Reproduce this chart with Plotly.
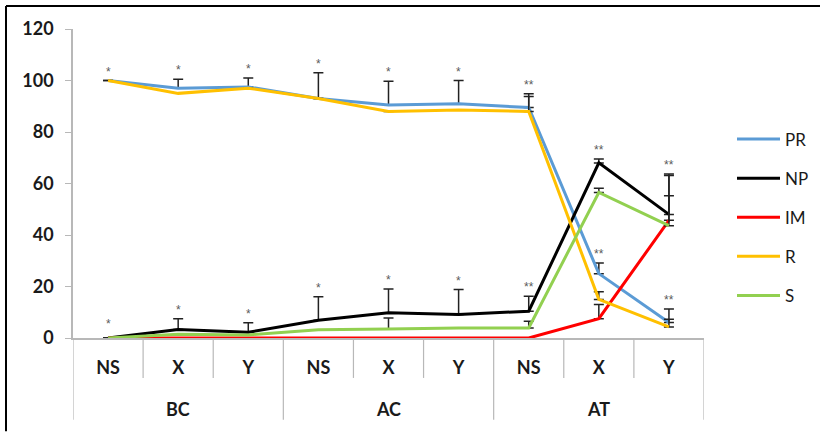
import plotly.graph_objects as go

# Phase groups and the stage within each group
groups = ["BC", "BC", "BC", "AC", "AC", "AC", "AT", "AT", "AT"]
stages = ["NS", "X", "Y", "NS", "X", "Y", "NS", "X", "Y"]

# Mean percentages per series
pr = [100, 97, 97.5, 93, 90.5, 91, 89.5, 25, 6]
np_ = [0, 3.3, 2.2, 6.9, 9.8, 9.1, 10.4, 68, 48]
im = [0, 0, 0, 0, 0, 0, 0, 7.5, 45.7]
r = [100, 95, 97, 93, 88, 88.5, 88, 15, 4.3]
s = [0, 1.5, 1.2, 3.2, 3.5, 3.9, 3.9, 56.5, 43.6]

# Upper error (None = no bar)
pr_err = [0, 3.5, 3.5, 10, 9.2, 9, 5.4, 4.1, 5.3]
np_err = [None, 4.2, 3.7, 9.1, 9.2, 9.7, 5.8, 1.5, 7.2]
im_err = [None, None, None, None, None, None, None, 5.5, 18]
r_err = [None, None, None, None, None, None, 5.8, 3, 3]
s_err = [None, None, None, None, 4.3, None, 2.6, 1.7, 19.5]

# Significance marks
sig_top = ["*", "*", "*", "*", "*", "*", "**", "**", "**"]
sig_low = ["*", "*", "*", "*", "*", "*", "**", "**", "**"]

names = ["PR", "NP", "IM", "R", "S"]
colors = ["#5B9BD5", "#000000", "#FF0000", "#FFC000", "#92D050"]
values = [pr, np_, im, r, s]
errors = [pr_err, np_err, im_err, r_err, s_err]

W, H = 820, 432
ML, MR, MT, MB = 73, 116, 29, 93.5
PLOT_W = W - ML - MR
PLOT_H = H - MT - MB
AXIS_GRAY = "#b8b8b8"
LABEL_FONT = dict(size=18, family="Lato", color="#1a1a1a", weight="bold")
SIG_FONT = dict(size=12, color="#5a5a5a", family="Arial")

xpos = list(range(len(stages)))

fig = go.Figure()
for i in range(len(names)):
    fig.add_trace(go.Scatter(
        x=xpos, y=values[i], name=names[i], mode="lines",
        line=dict(color=colors[i], width=3),
        legendgroup=names[i],
        error_y=dict(type="data", symmetric=False, array=errors[i],
                     arrayminus=[0] * len(xpos), color="#222222",
                     thickness=1.5, width=5),
    ))


def top_of(vals, errs, k):
    e = errs[k] if errs[k] is not None else 0
    return vals[k] + e


for k in xpos:
    fig.add_annotation(x=k, y=top_of(pr, pr_err, k), text=sig_top[k], showarrow=False,
                       yanchor="bottom", yshift=0, font=SIG_FONT)
    y_lo = max(top_of(np_, np_err, k), top_of(s, s_err, k), top_of(im, im_err, k))
    fig.add_annotation(x=k, y=y_lo, text=sig_low[k], showarrow=False,
                       yanchor="bottom", yshift=0 if k else 5, font=SIG_FONT)

# category boundaries below the axis; group boundaries run deeper
n = len(stages)
for k in range(n + 1):
    is_group_edge = k == 0 or k == n or groups[k] != groups[k - 1]
    depth = 82 if is_group_edge else 40
    fig.add_shape(type="line", xref="x", yref="paper", x0=k - 0.5, x1=k - 0.5,
                  y0=0, y1=-depth / PLOT_H, line=dict(color=AXIS_GRAY, width=1.2))

# group names centred under their stages
seen = []
for g in groups:
    if g not in seen:
        seen.append(g)
for g in seen:
    idx = [k for k in xpos if groups[k] == g]
    fig.add_annotation(x=sum(idx) / len(idx), y=-71 / PLOT_H, xref="x", yref="paper",
                       text=g, showarrow=False, yanchor="middle", font=LABEL_FONT)

# outer frame: top and left edges, kept inside the canvas
fx0 = (6 - ML) / PLOT_W
fx1 = (W - ML) / PLOT_W
fy_top = 1 + (MT - 6) / PLOT_H
fy_bot = -(H - MT - PLOT_H) / PLOT_H
fig.add_shape(type="line", xref="paper", yref="paper",
              x0=fx0, x1=fx1, y0=fy_top, y1=fy_top, line=dict(color="black", width=2))
fig.add_shape(type="line", xref="paper", yref="paper",
              x0=fx0, x1=fx0, y0=fy_top, y1=fy_bot, line=dict(color="black", width=2))

fig.update_layout(
    width=W, height=H,
    margin=dict(l=ML, r=MR, t=MT, b=MB, autoexpand=False),
    paper_bgcolor="white", plot_bgcolor="white",
    font=dict(family="Lato", color="#1a1a1a"),
    showlegend=True,
    legend=dict(x=(732 - ML) / PLOT_W, y=0.39, xanchor="left", yanchor="middle",
                font=dict(size=17, family="Lato", color="#1a1a1a"),
                itemwidth=43, tracegroupgap=14, bgcolor="rgba(0,0,0,0)"),
    xaxis=dict(range=[-0.5, n - 0.5], tickvals=xpos, ticktext=stages,
               showline=True, linecolor=AXIS_GRAY, linewidth=1.5,
               ticks="", ticklabelstandoff=13, tickfont=LABEL_FONT,
               showgrid=False, zeroline=False),
    yaxis=dict(range=[0, 120], dtick=20, showline=True, linecolor=AXIS_GRAY, linewidth=1.5,
               ticks="outside", ticklen=6, tickcolor=AXIS_GRAY, showgrid=False,
               zeroline=False, ticklabelstandoff=8, tickfont=LABEL_FONT),
)

fig.write_html("out.html")
